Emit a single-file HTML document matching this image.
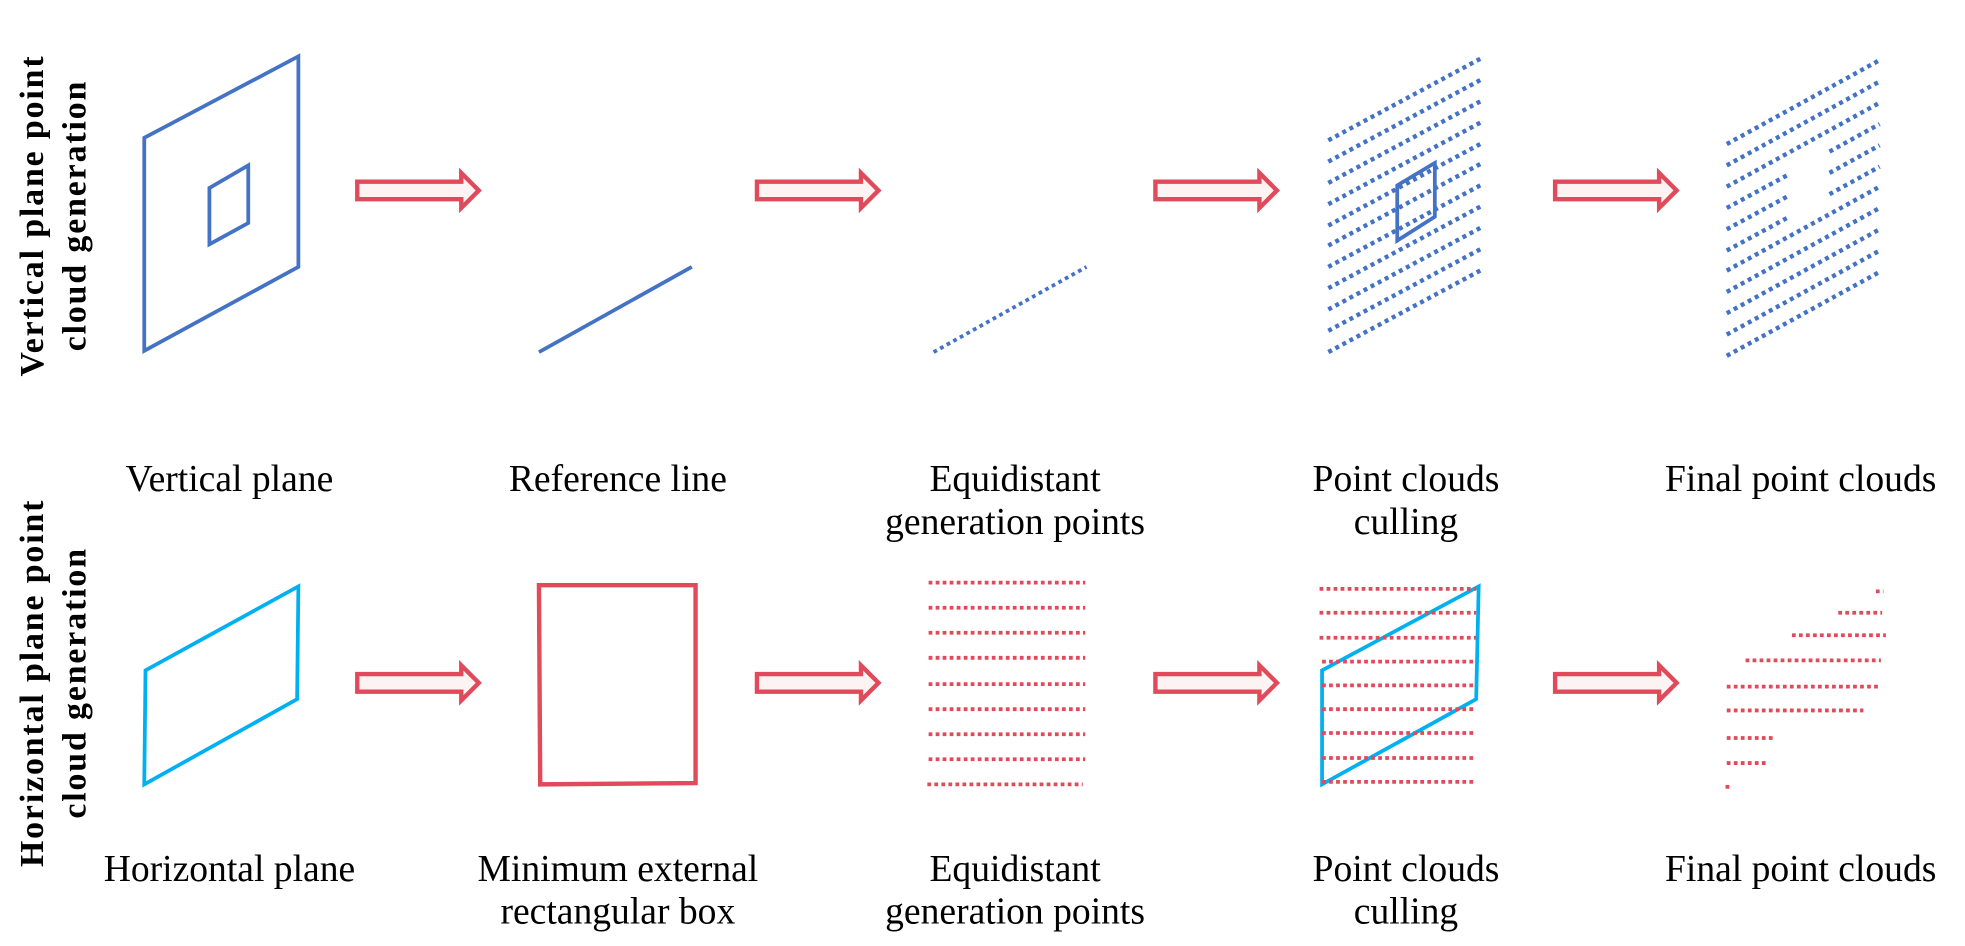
<!DOCTYPE html>
<html><head><meta charset="utf-8"><style>html,body{margin:0;padding:0;background:#fff}svg{display:block}</style></head>
<body>
<svg width="1965" height="946" viewBox="0 0 1568 755" xmlns="http://www.w3.org/2000/svg">
<defs>
<g id="arr"><path d="M0,-7 H83 V-14 L97,0 L83,14 V7 H0 Z" fill="#fdf3f3" stroke="#e04a5a" stroke-width="3.5" stroke-linejoin="miter"/></g>
</defs>
<g font-family="Liberation Serif, serif" font-weight="bold" font-size="27" letter-spacing="1.5" text-anchor="middle" fill="#000">
<text transform="translate(34,172) rotate(-90)">Vertical plane point</text>
<text transform="translate(68,172) rotate(-90)">cloud generation</text>
<text transform="translate(34,545) rotate(-90)">Horizontal plane point</text>
<text transform="translate(68,545) rotate(-90)">cloud generation</text>
</g>
<g font-family="Liberation Serif, serif" font-size="30" text-anchor="middle" fill="#000">
<text x="183" y="392">Vertical plane</text>
<text x="493" y="392">Reference line</text>
<text x="810" y="392">Equidistant</text>
<text x="810" y="426">generation points</text>
<text x="1122" y="392">Point clouds</text>
<text x="1122" y="426">culling</text>
<text x="1437" y="392">Final point clouds</text>
<text x="183" y="703">Horizontal plane</text>
<text x="493" y="703">Minimum external</text>
<text x="493" y="737">rectangular box</text>
<text x="810" y="703">Equidistant</text>
<text x="810" y="737">generation points</text>
<text x="1122" y="703">Point clouds</text>
<text x="1122" y="737">culling</text>
<text x="1437" y="703">Final point clouds</text>
</g>
<use href="#arr" x="285" y="152"/><use href="#arr" x="604" y="152"/><use href="#arr" x="922" y="152"/><use href="#arr" x="1241" y="152"/>
<use href="#arr" x="285" y="545"/><use href="#arr" x="604" y="545"/><use href="#arr" x="922" y="545"/><use href="#arr" x="1241" y="545"/>
<g fill="none" stroke="#4472c4" stroke-width="3">
<polygon points="115,110 238,45 238,213 115,280"/>
<polygon points="167,150 198,132 198,178 167,195"/>
<line x1="430" y1="281" x2="552" y2="213"/>
<line x1="745" y1="281" x2="867" y2="213" stroke-dasharray="3 3"/>
<polygon points="1115,148 1145,130 1145,173 1115,192"/>
</g>
<g stroke="#4472c4" stroke-width="3.5" stroke-dasharray="3.2 3.2">
<path d="M1060,112 L1183,46 M1060,129 L1183,63 M1060,146 L1183,80 M1060,163 L1183,97 M1060,180 L1183,114 M1060,196 L1183,130 M1060,213 L1183,147 M1060,230 L1183,164 M1060,247 L1183,181 M1060,264 L1183,198 M1060,281 L1183,215"/>
<path d="M1378,115 L1500,48 M1378,132 L1500,65 M1378,149 L1500,82 M1378,166 L1426,140 M1460,121 L1500,99 M1378,183 L1426,157 M1460,138 L1500,116 M1378,200 L1426,174 M1460,155 L1500,133 M1378,216 L1500,149 M1378,233 L1500,166 M1378,250 L1500,183 M1378,267 L1500,200 M1378,284 L1500,217"/>
</g>
<g fill="none" stroke="#00b0f0" stroke-width="3">
<polygon points="115,626 116,535 238,468 237,558"/>
<polygon points="1055,626 1055,535 1180,468 1178,558"/>
</g>
<polygon points="430,467 555,467 555,625 431,626" fill="none" stroke="#e04a5a" stroke-width="3.5"/>
<g stroke="#e04a5a" stroke-width="3" stroke-dasharray="3 2.6">
<path d="M741,465 H866 M741,485 H866 M741,505 H866 M741,525 H866 M741,546 H866 M741,566 H866 M741,586 H866 M741,606 H866 M740,626 H864"/>
<path d="M1053,470 H1178 M1053,489 H1178 M1053,509 H1178 M1055,528 H1178 M1055,547 H1178 M1055,566 H1178 M1055,585 H1178 M1055,605 H1178 M1055,624 H1176"/>
<path d="M1497,472 H1503 M1467,489 H1502 M1430,507 H1505 M1393,527 H1501 M1378,548 H1501 M1378,567 H1487 M1378,589 H1417 M1378,609 H1410 M1377,628 H1381"/>
</g>
</svg>
</body></html>
